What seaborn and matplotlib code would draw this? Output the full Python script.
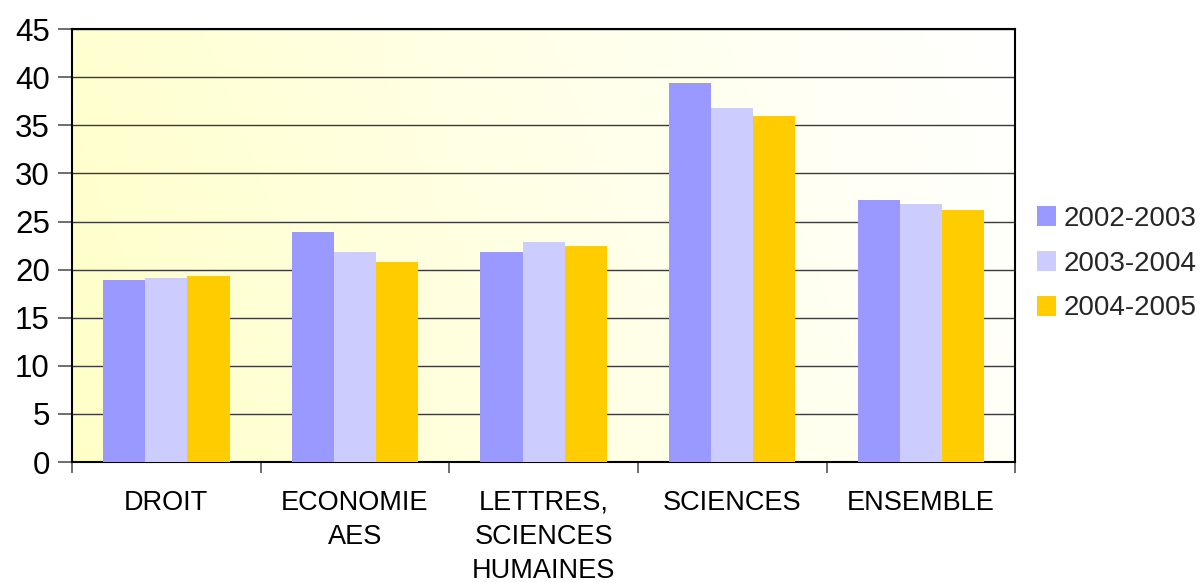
import numpy as np
import pandas as pd
import matplotlib
matplotlib.use("Agg")
import matplotlib.pyplot as plt
from matplotlib.colors import LinearSegmentedColormap
from matplotlib.ticker import FixedLocator, MultipleLocator
import seaborn as sns

categories = ["DROIT", "ECONOMIE\nAES", "LETTRES,\nSCIENCES\nHUMAINES", "SCIENCES", "ENSEMBLE"]
years = ["2002-2003", "2003-2004", "2004-2005"]
v_2002_2003 = [18.9, 23.9, 21.8, 39.4, 27.2]
v_2003_2004 = [19.1, 21.8, 22.9, 36.8, 26.8]
v_2004_2005 = [19.3, 20.8, 22.5, 36.0, 26.2]
palette = ["#9999FF", "#CCCCFF", "#FFCC00"]

df = pd.DataFrame({
    "categorie": categories * 3,
    "annee": [y for y in years for _ in categories],
    "valeur": v_2002_2003 + v_2003_2004 + v_2004_2005,
})

sns.set_theme(style="white")
plt.rcParams["font.family"] = ["Liberation Sans", "DejaVu Sans"]

fig = plt.figure(figsize=(12, 5.83), dpi=100)
ax = fig.add_axes([0.060, 0.2075, 0.786, 0.7425])

# pale yellow wash fading to white towards the right
xs = np.linspace(0, 1, 300)
ys = np.linspace(0, 1, 150)
X, Y = np.meshgrid(xs, ys)
t = np.clip(0.85 * X + 0.15 * (1 - Y), 0, 1)
cmap = LinearSegmentedColormap.from_list("wash", ["#FFFFC8", "#FFFFE6", "#FFFFFF"])
ax.imshow(t, cmap=cmap, extent=[0, 1, 0, 1], transform=ax.transAxes,
          aspect="auto", origin="upper", zorder=0)

sns.barplot(data=df, x="categorie", y="valeur", hue="annee", palette=palette,
            width=0.67, linewidth=0, saturation=1, ax=ax, zorder=3)

ax.set_xlim(-0.5, len(categories) - 0.5)
ax.set_ylim(0, 45)
ax.yaxis.set_major_locator(MultipleLocator(5))
ax.grid(axis="y", color="#3a3a3a", linewidth=1.0, zorder=1)
ax.set_axisbelow(True)
ax.set_xlabel("")
ax.set_ylabel("")

for s in ax.spines.values():
    s.set_visible(True)
    s.set_color("black")
    s.set_linewidth(1.5)

ax.xaxis.set_minor_locator(FixedLocator(np.arange(-0.5, len(categories), 1.0)))
ax.tick_params(axis="x", which="major", length=0, pad=20, labelsize=19.5, colors="black")
ax.tick_params(axis="x", which="minor", length=8, width=1.2, color="#555555", bottom=True)
ax.tick_params(axis="y", which="major", length=10, width=1.2, color="#555555", left=True,
               labelsize=22.5, labelcolor="black", pad=6)
for lbl in ax.get_xticklabels():
    lbl.set_verticalalignment("top")
    lbl.set_linespacing(1.4)

handles, labels = ax.get_legend_handles_labels()
ax.legend(handles, labels, loc="center left", bbox_to_anchor=(0.8525, 0.548),
          bbox_transform=fig.transFigure, frameon=False, fontsize=20,
          handlelength=0.67, handleheight=0.72, handletextpad=0.3, labelspacing=0.68,
          borderpad=0)

fig.savefig("out.png", dpi=100)
